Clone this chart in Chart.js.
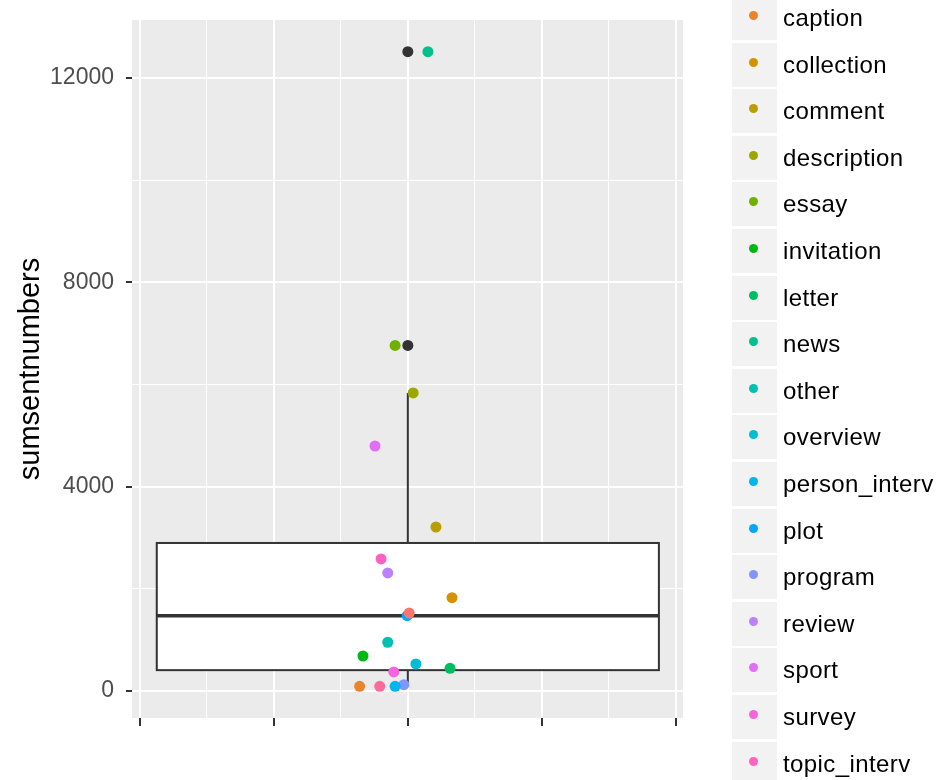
<!DOCTYPE html>
<html>
<head>
<meta charset="utf-8">
<title>sumsentnumbers</title>
<script src="https://cdn.jsdelivr.net/npm/chart.js@4.4.1/dist/chart.umd.min.js"></script>
<style>
  body { margin: 0; background: #fff; font-family: "Liberation Sans", Arial, sans-serif; }
  #wrap { position: relative; width: 939px; height: 780px; overflow: hidden; }
  .key { position: absolute; left: 732px; width: 45px; height: 44px; background: #F2F2F2; }
  .dot { position: absolute; left: 17px; top: 17px; width: 9px; height: 9px; border-radius: 50%; }
  .lab { position: absolute; left: 783px; height: 44px; line-height: 44px; font-size: 24px; letter-spacing: 0.4px; color: #000; white-space: nowrap; }
</style>
</head>
<body>
<div id="wrap">
  <canvas id="myChart" width="939" height="780"></canvas>
  <div id="legend"></div>
</div>
<script>
// one point per text type; first and last level fall outside the visible legend
var categories = ["", "caption", "collection", "comment", "description", "essay", "invitation",
    "letter", "news", "other", "overview", "person_interv", "plot", "program", "review",
    "sport", "survey", "topic_interv", ""];
var sumsentnumbers = [1527, 92, 1827, 3211, 5835, 6767, 685, 444, 12517, 954, 529, 92,
    1474, 123, 2311, 4797, 372, 2585, 92];
// horizontal jitter
var jitterX = [0.002, -0.072, 0.066, 0.042, 0.008, -0.019, -0.067, 0.063, 0.030, -0.030,
    0.012, -0.019, -0.001, -0.006, -0.030, -0.049, -0.021, -0.040, -0.042];
var colours = ["#F8766D", "#E9842C", "#D69100", "#BC9D00", "#9CA700", "#6FB000", "#00B813",
    "#00BD61", "#00C08E", "#00C0B4", "#00BDD4", "#00B5EE", "#00A7FF", "#7F96FF", "#BC81FF",
    "#E26EF7", "#F863DF", "#FF62BF", "#FF6A9A"];
var yTicks = [0, 4000, 8000, 12000];
var yMinor = [2000, 6000, 10000];
var xTicks = [-0.4, -0.2, 0, 0.2, 0.4];
var xMinor = [-0.3, -0.1, 0.1, 0.3];

function quantile(sorted, p) {
    var h = (sorted.length - 1) * p;
    var lo = Math.floor(h);
    var hi = Math.ceil(h);
    return sorted[lo] + (h - lo) * (sorted[hi] - sorted[lo]);
}

var sorted = sumsentnumbers.slice().sort(function (a, b) { return a - b; });
var q1 = quantile(sorted, 0.25), med = quantile(sorted, 0.5), q3 = quantile(sorted, 0.75);
var iqr = q3 - q1;
var inside = sorted.filter(function (v) { return v >= q1 - 1.5 * iqr && v <= q3 + 1.5 * iqr; });
var whiskLo = inside[0], whiskHi = inside[inside.length - 1];
var outliers = sorted.filter(function (v) { return v < whiskLo || v > whiskHi; });

var boxPlugin = {
    id: 'ggbox',
    beforeDraw: function (chart) {
        var a = chart.chartArea, ctx = chart.ctx;
        ctx.save();
        ctx.fillStyle = '#EBEBEB';
        ctx.fillRect(a.left, a.top, a.right - a.left, a.bottom - a.top);
        ctx.restore();
    },
    beforeDatasetsDraw: function (chart) {
        var ctx = chart.ctx, xs = chart.scales.x, ys = chart.scales.y;
        var xc = xs.getPixelForValue(0);
        var xl = xs.getPixelForValue(-0.375), xr = xs.getPixelForValue(0.375);
        ctx.save();
        ctx.strokeStyle = '#333333';
        ctx.lineWidth = 2;
        ctx.beginPath();
        ctx.moveTo(xc, ys.getPixelForValue(q3));
        ctx.lineTo(xc, ys.getPixelForValue(whiskHi));
        ctx.moveTo(xc, ys.getPixelForValue(q1));
        ctx.lineTo(xc, ys.getPixelForValue(whiskLo));
        ctx.stroke();
        var top = ys.getPixelForValue(q3), bot = ys.getPixelForValue(q1);
        ctx.fillStyle = '#fff';
        ctx.fillRect(xl, top, xr - xl, bot - top);
        ctx.strokeRect(xl, top, xr - xl, bot - top);
        ctx.lineWidth = 3.5;
        ctx.beginPath();
        ctx.moveTo(xl, ys.getPixelForValue(med));
        ctx.lineTo(xr, ys.getPixelForValue(med));
        ctx.stroke();
        ctx.fillStyle = '#333333';
        outliers.forEach(function (v) {
            ctx.beginPath();
            ctx.arc(xc, ys.getPixelForValue(v), 5.5, 0, Math.PI * 2);
            ctx.fill();
        });
        ctx.restore();
    }
};

function isIn(list, v) {
    for (var i = 0; i < list.length; i++) { if (Math.abs(list[i] - v) < 1e-9) return true; }
    return false;
}

var datasets = [];
for (var i = 0; i < categories.length; i++) {
    datasets.push({
        label: categories[i],
        data: [{ x: jitterX[i], y: sumsentnumbers[i] }],
        backgroundColor: colours[i],
        borderWidth: 0,
        pointRadius: 5.5,
        pointHoverRadius: 5.5
    });
}

Chart.defaults.font.family = "'Liberation Sans', Arial, sans-serif";

var myChart = new Chart(document.getElementById('myChart'), {
    type: 'scatter',
    data: { datasets: datasets },
    plugins: [boxPlugin],
    options: {
        responsive: false,
        animation: false,
        layout: { padding: { top: 20, right: 256, left: 0, bottom: 0 } },
        plugins: { legend: { display: false }, tooltip: { enabled: false } },
        scales: {
            x: {
                type: 'linear',
                min: -0.412,
                max: 0.411,
                afterBuildTicks: function (s) {
                    s.ticks = xTicks.concat(xMinor).sort(function (a, b) { return a - b; })
                        .map(function (v) { return { value: v }; });
                },
                afterFit: function (s) { s.height = 62; s.paddingLeft = 0; s.paddingRight = 0; },
                ticks: { callback: function () { return ''; } },
                border: { display: false },
                grid: {
                    color: '#FFFFFF',
                    lineWidth: function (c) { return isIn(xTicks, c.tick.value) ? 2 : 1; },
                    tickColor: function (c) { return isIn(xTicks, c.tick.value) ? '#333333' : 'rgba(0,0,0,0)'; },
                    tickLength: 8,
                    tickWidth: 2
                }
            },
            y: {
                type: 'linear',
                min: -529,
                max: 13138,
                afterBuildTicks: function (s) {
                    s.ticks = yTicks.concat(yMinor).sort(function (a, b) { return a - b; })
                        .map(function (v) { return { value: v }; });
                },
                afterFit: function (s) { s.width = 132; s.paddingTop = 0; s.paddingBottom = 0; },
                ticks: {
                    color: '#4D4D4D',
                    font: { size: 23 },
                    padding: 12,
                    callback: function (v) { return isIn(yTicks, v) ? String(v) : ''; }
                },
                border: { display: false },
                grid: {
                    color: '#FFFFFF',
                    lineWidth: function (c) { return isIn(yTicks, c.tick.value) ? 2 : 1; },
                    tickColor: function (c) { return isIn(yTicks, c.tick.value) ? '#333333' : 'rgba(0,0,0,0)'; },
                    tickLength: 6,
                    tickWidth: 2
                },
                title: {
                    display: true,
                    text: 'sumsentnumbers',
                    color: '#000',
                    font: { size: 29 },
                    padding: { top: 14, bottom: 0 }
                }
            }
        }
    }
});

// legend: the column is taller than the window, so only the middle entries show
var legend = document.getElementById('legend');
var html = '';
for (var k = 1; k < categories.length; k++) {
    if (!categories[k]) continue;
    var cy = 18 + 46.6 * (k - 1);
    html += '<div class="key" style="top:' + (cy - 22) + 'px"><div class="dot" style="top:15px;background:' +
        colours[k] + '"></div></div>' +
        '<div class="lab" style="top:' + (cy - 22) + 'px">' + categories[k] + '</div>';
}
legend.innerHTML = html;
</script>
</body>
</html>
